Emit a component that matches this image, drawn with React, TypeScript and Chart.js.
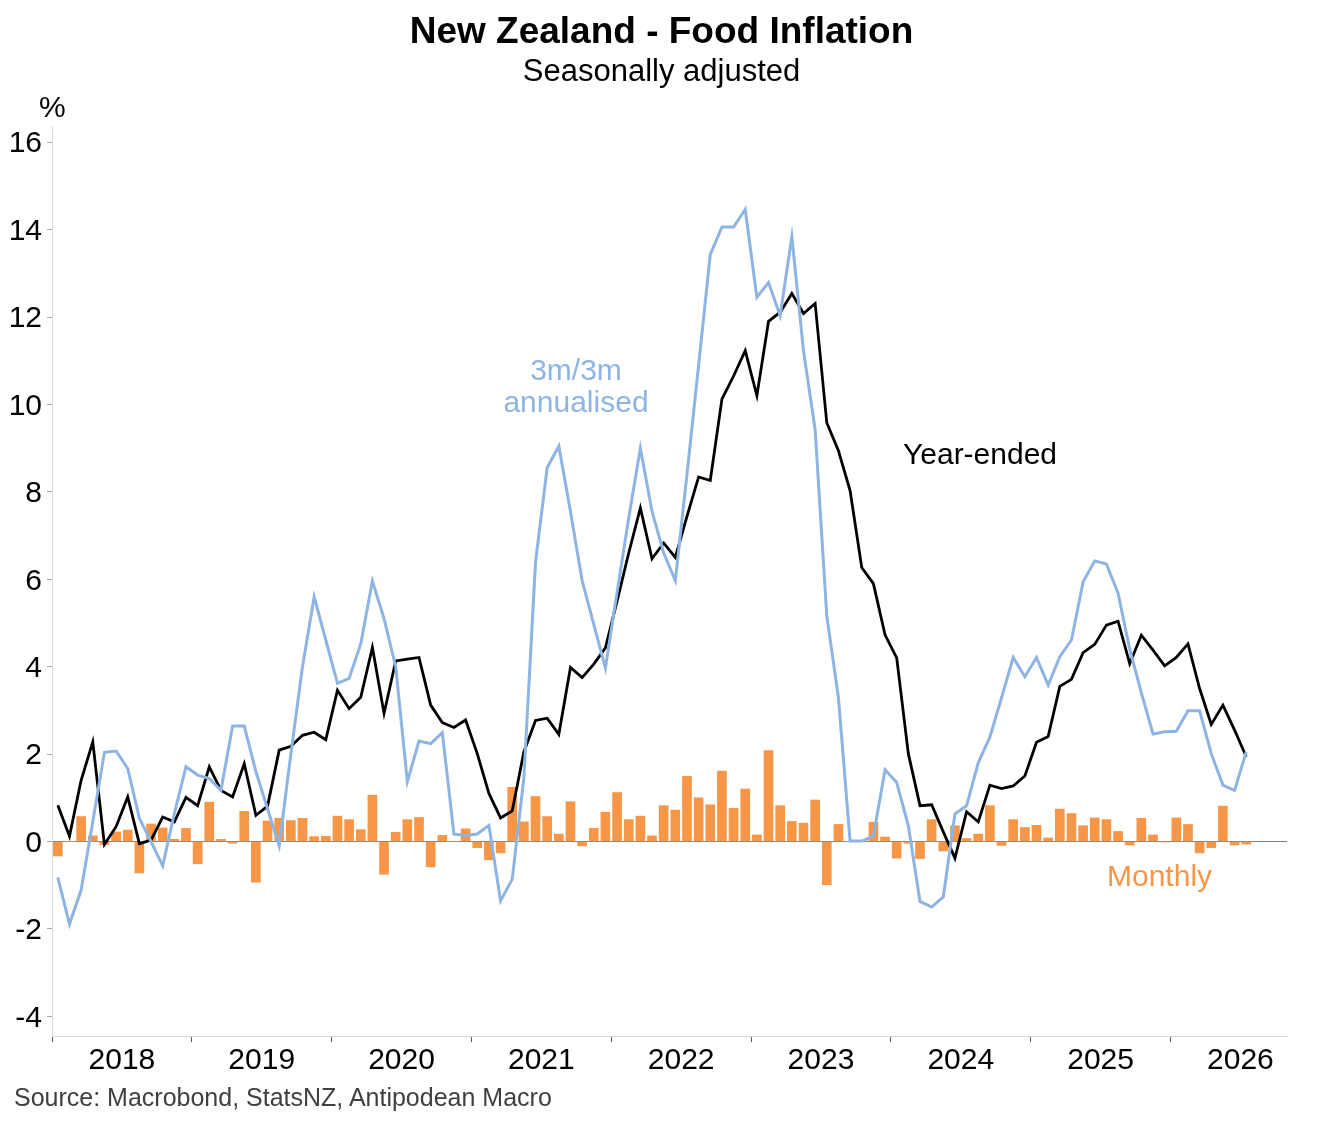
import React, { useEffect, useRef } from "react"
import { Chart, registerables } from "chart.js"

Chart.register(...registerables)

// monthly series, Jan 2018 .. Jul 2026
const startYear = 2018
const monthly = [
  -0.33, 0.0, 0.57, 0.13, -0.07, 0.22, 0.26, -0.72, 0.4, 0.31, 0.05, 0.3,
  -0.51, 0.9, 0.05, -0.04, 0.69, -0.93, 0.47, 0.53, 0.48, 0.53, 0.11, 0.12,
  0.58, 0.5, 0.27, 1.06, -0.75, 0.21, 0.5, 0.55, -0.58, 0.14, 0.0, 0.29,
  -0.14, -0.42, -0.26, 1.24, 0.45, 1.03, 0.57, 0.17, 0.91, -0.1, 0.3, 0.67,
  1.12, 0.5, 0.58, 0.13, 0.82, 0.72, 1.49, 1.0, 0.84, 1.61, 0.76, 1.2,
  0.15, 2.08, 0.82, 0.46, 0.42, 0.95, -0.99, 0.39, 0.0, 0.0, 0.44, 0.1,
  -0.38, -0.04, -0.39, 0.5, -0.22, 0.36, 0.07, 0.17, 0.82, -0.09, 0.5, 0.32,
  0.37, 0.08, 0.74, 0.64, 0.36, 0.54, 0.5, 0.23, -0.08, 0.53, 0.15, -0.01,
  0.54, 0.39, -0.26, -0.14, 0.81, -0.08, -0.06,
]
const yearEnded = [
  0.83, 0.12, 1.4, 2.28, -0.07, 0.34, 1.02, -0.05, 0.03, 0.56, 0.45, 1.01,
  0.82, 1.71, 1.17, 1.02, 1.78, 0.6, 0.81, 2.09, 2.18, 2.43, 2.5, 2.33,
  3.46, 3.04, 3.3, 4.44, 2.93, 4.13, 4.17, 4.21, 3.12, 2.72, 2.61, 2.78,
  2.01, 1.1, 0.54, 0.7, 2.05, 2.77, 2.82, 2.45, 3.98, 3.75, 4.06, 4.43,
  5.5, 6.6, 7.63, 6.47, 6.83, 6.5, 7.44, 8.34, 8.26, 10.12, 10.65, 11.23,
  10.2, 11.9, 12.11, 12.54, 12.08, 12.31, 9.58, 8.94, 8.03, 6.27, 5.9, 4.73,
  4.2, 2.01, 0.82, 0.84, 0.22, -0.38, 0.68, 0.45, 1.29, 1.21, 1.27, 1.5,
  2.27, 2.4, 3.55, 3.71, 4.32, 4.51, 4.95, 5.04, 4.07, 4.72, 4.38, 4.02,
  4.21, 4.52, 3.5, 2.68, 3.12, 2.55, 1.94,
]
const threeMonthAnn = [
  -0.82, -1.89, -1.11, 0.45, 2.04, 2.07, 1.67, 0.53, 0.0, -0.56, 0.64, 1.71,
  1.52, 1.44, 1.17, 2.64, 2.64, 1.6, 0.75, -0.1, 2.0, 4.0, 5.6, 4.61,
  3.62, 3.73, 4.52, 5.96, 5.1, 4.0, 1.37, 2.3, 2.24, 2.49, 0.17, 0.14,
  0.17, 0.37, -1.36, -0.86, 1.45, 6.39, 8.55, 9.05, 7.55, 5.97, 4.97, 3.97,
  5.7, 7.4, 9.0, 7.55, 6.6, 5.97, 8.4, 10.9, 13.43, 14.06, 14.06, 14.46,
  12.45, 12.79, 12.03, 13.84, 11.23, 9.42, 5.16, 3.29, 0.01, 0.01, 0.12, 1.64,
  1.35, 0.36, -1.37, -1.5, -1.27, 0.63, 0.82, 1.8, 2.39, 3.29, 4.21, 3.77,
  4.21, 3.58, 4.23, 4.61, 5.94, 6.42, 6.35, 5.68, 4.4, 3.4, 2.46, 2.51,
  2.52, 2.99, 2.99, 2.01, 1.29, 1.17, 2.05,
]
const yearLabels = ["2018", "2019", "2020", "2021", "2022", "2023", "2024", "2025", "2026"]
const yTicks = [-4, -2, 0, 2, 4, 6, 8, 10, 12, 14, 16]
const monthsOnAxis = 106

const FONT = "'Liberation Sans', Arial, sans-serif"
const BLUE = "#8DB4E2"
const ORANGE = "#F79646"

const toPoints = (arr: number[]) => arr.map((y, i) => ({ x: i + 0.5, y }))

const App: React.FC = () => {
  const chartRef = useRef<HTMLCanvasElement | null>(null)

  useEffect(() => {
    document.body.style.margin = "0"
    if (!chartRef.current) return
    const ctx = chartRef.current.getContext("2d")
    if (!ctx) return

    const xTicks: number[] = []
    yearLabels.forEach((_, k) => {
      xTicks.push(k * 12)
      xTicks.push(k * 12 + 6)
    })

    const chart = new Chart(ctx, {
      type: "bar",
      data: {
        datasets: [
          {
            type: "line",
            label: "3m/3m annualised",
            data: toPoints(threeMonthAnn),
            borderColor: BLUE,
            borderWidth: 3,
            pointRadius: 0,
            tension: 0,
            order: 1,
          },
          {
            type: "line",
            label: "Year-ended",
            data: toPoints(yearEnded),
            borderColor: "#000000",
            borderWidth: 2.8,
            pointRadius: 0,
            tension: 0,
            order: 2,
          },
          {
            type: "bar",
            label: "Monthly",
            data: toPoints(monthly),
            backgroundColor: ORANGE,
            borderWidth: 0,
            barThickness: 9,
            order: 3,
          },
        ],
      },
      options: {
        responsive: false,
        animation: false,
        devicePixelRatio: 1,
        layout: { padding: { top: 126, right: 36, bottom: 40, left: 0 } },
        plugins: {
          legend: { display: false },
          tooltip: { enabled: false },
          title: { display: false },
        },
        scales: {
          x: {
            type: "linear",
            offset: false,
            min: 0,
            max: monthsOnAxis,
            afterBuildTicks: (scale: any) => {
              scale.ticks = xTicks.map((v) => ({ value: v }))
            },
            afterFit: (scale: any) => {
              scale.height = 1122 - 40 - 1036
            },
            border: { display: true, color: "#d9d9d9", width: 1 },
            grid: {
              offset: false,
              drawOnChartArea: false,
              tickLength: 6,
              tickColor: (c: any) => (c.tick && c.tick.value % 12 === 0 ? "#595959" : "rgba(0,0,0,0)"),
            },
            ticks: {
              autoSkip: false,
              maxRotation: 0,
              minRotation: 0,
              padding: 1,
              color: "#000000",
              font: { family: FONT, size: 30 },
              callback: (v: any) => (Number(v) % 12 === 6 ? yearLabels[(Number(v) - 6) / 12] : ""),
            },
          },
          y: {
            min: -4.45,
            max: 16.37,
            afterBuildTicks: (scale: any) => {
              scale.ticks = yTicks.map((v) => ({ value: v }))
            },
            afterFit: (scale: any) => {
              scale.width = 52
            },
            border: { display: true, color: "#d9d9d9", width: 1 },
            grid: {
              drawOnChartArea: true,
              color: (c: any) => (c.tick && c.tick.value === 0 ? "#808080" : "rgba(0,0,0,0)"),
              tickColor: "#a6a6a6",
              tickLength: 5,
            },
            ticks: {
              padding: 5,
              labelOffset: 2,
              color: "#000000",
              font: { family: FONT, size: 30 },
            },
          },
        },
      },
    })

    return () => {
      chart.destroy()
    }
  }, [])

  const txt: React.CSSProperties = {
    position: "absolute",
    fontFamily: FONT,
    lineHeight: 1,
    whiteSpace: "nowrap",
    margin: 0,
  }

  return (
    <div style={{ position: "relative", width: 1323, height: 1122, background: "#ffffff" }}>
      <canvas ref={chartRef} width={1323} height={1122} style={{ position: "absolute", left: 0, top: 0 }} />
      <div style={{ ...txt, left: 0, width: 1323, top: 12, textAlign: "center", fontSize: 37, fontWeight: "bold" }}>
        New Zealand - Food Inflation
      </div>
      <div style={{ ...txt, left: 0, width: 1323, top: 55, textAlign: "center", fontSize: 31 }}>
        Seasonally adjusted
      </div>
      <div style={{ ...txt, left: 39, top: 92, fontSize: 30 }}>%</div>
      <div style={{ ...txt, left: 476, width: 200, top: 355, textAlign: "center", fontSize: 30, color: BLUE }}>
        3m/3m
      </div>
      <div style={{ ...txt, left: 476, width: 200, top: 387, textAlign: "center", fontSize: 30, color: BLUE }}>
        annualised
      </div>
      <div style={{ ...txt, left: 903, top: 439, fontSize: 30, color: "#000000" }}>Year-ended</div>
      <div style={{ ...txt, left: 1107, top: 861, fontSize: 30, color: ORANGE }}>Monthly</div>
      <div style={{ ...txt, left: 14, top: 1085, fontSize: 25, color: "#404040" }}>
        Source: Macrobond, StatsNZ, Antipodean Macro
      </div>
    </div>
  )
}

export default App
